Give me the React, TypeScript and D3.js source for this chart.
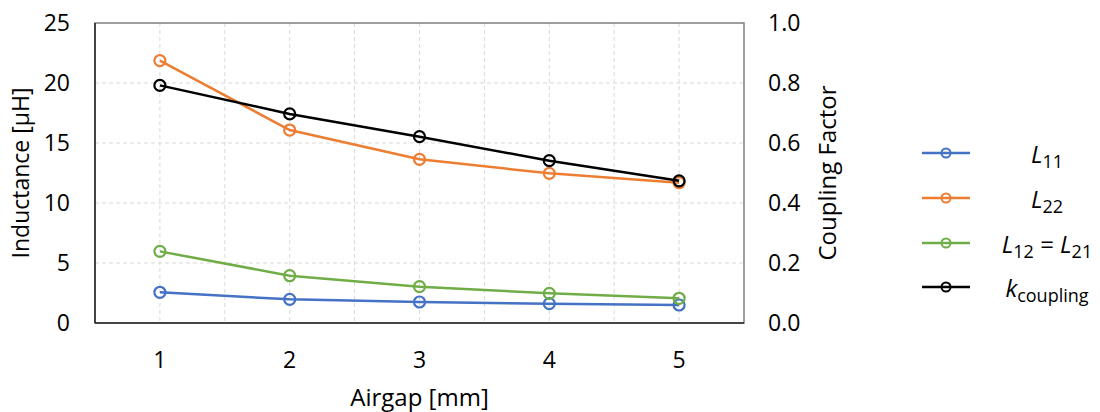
import React from "react";
import * as d3 from "d3";

const airgaps = [1, 2, 3, 4, 5];
const L11 = [2.56, 1.97, 1.75, 1.61, 1.5];
const L22 = [21.86, 16.08, 13.64, 12.47, 11.69];
const L12 = [5.97, 3.94, 3.03, 2.47, 2.06];
const kCoupling = [0.792, 0.697, 0.621, 0.541, 0.474];
const leftTicks = [0, 5, 10, 15, 20, 25];
const rightTicks = [0, 0.2, 0.4, 0.6, 0.8, 1.0];
const xTicks = [1, 2, 3, 4, 5];
const xGrid = [0.5, 1, 1.5, 2, 2.5, 3, 3.5, 4, 4.5, 5, 5.5];

const FONT = "'Open Sans', 'Noto Sans', sans-serif";

export default function App() {
  const left = 95, right = 744, top = 23, bottom = 323;
  const x = d3.scaleLinear().domain([0.5, 5.5]).range([left, right]);
  const yL = d3.scaleLinear().domain([0, 25]).range([bottom, top]);
  const yR = d3.scaleLinear().domain([0, 1]).range([bottom, top]);

  const series = [
    { name: "L11", values: L11, color: "#4472C4", y: yL },
    { name: "L22", values: L22, color: "#ED7D31", y: yL },
    { name: "L12", values: L12, color: "#70AD47", y: yL },
    { name: "k", values: kCoupling, color: "#000000", y: yR },
  ];

  const SUB = 18;
  const legendRows = [
    { color: "#4472C4", y: 153, label: (
      <>
        <tspan fontStyle="italic">L</tspan>
        <tspan fontSize={SUB} dy={5}>11</tspan>
      </>
    ) },
    { color: "#ED7D31", y: 198, label: (
      <>
        <tspan fontStyle="italic">L</tspan>
        <tspan fontSize={SUB} dy={5}>22</tspan>
      </>
    ) },
    { color: "#70AD47", y: 243, label: (
      <>
        <tspan fontStyle="italic">L</tspan>
        <tspan fontSize={SUB} dy={5}>12</tspan>
        <tspan dy={-5}> = </tspan>
        <tspan fontStyle="italic">L</tspan>
        <tspan fontSize={SUB} dy={5}>21</tspan>
      </>
    ) },
    { color: "#000000", y: 287, label: (
      <>
        <tspan fontStyle="italic">k</tspan>
        <tspan fontSize={SUB} dy={5}>coupling</tspan>
      </>
    ) },
  ];

  return (
    <svg width={1100} height={412} style={{ position: "absolute", left: 0, top: 0, background: "#fff" }} fontFamily={FONT}>
      <rect x={0} y={0} width={1100} height={412} fill="#fff" />
      {/* grid */}
      {leftTicks.slice(1, -1).map((t) => (
        <line key={"gy" + t} x1={left} x2={right} y1={yL(t)} y2={yL(t)} stroke="#d9d9d9" strokeWidth={1} strokeDasharray="4,3" />
      ))}
      {xGrid.slice(1, -1).map((t) => (
        <line key={"gx" + t} x1={x(t)} x2={x(t)} y1={top} y2={bottom} stroke="#d9d9d9" strokeWidth={1} strokeDasharray="4,3" />
      ))}
      {/* frame */}
      <rect x={left} y={top} width={right - left} height={bottom - top} fill="none" stroke="#7f7f7f" strokeWidth={1.5} />
      <line x1={left} x2={left} y1={top} y2={bottom} stroke="#262626" strokeWidth={1.5} />
      <line x1={left} x2={right} y1={bottom} y2={bottom} stroke="#262626" strokeWidth={1.5} />

      {/* series */}
      {series.map((s) => {
        const line = d3.line<number>().x((_, i) => x(airgaps[i])).y((v) => s.y(v));
        return (
          <g key={s.name}>
            <path d={line(s.values) || ""} fill="none" stroke={s.color} strokeWidth={2.5} />
            {s.values.map((v, i) => (
              <circle key={i} cx={x(airgaps[i])} cy={s.y(v)} r={5.5} fill="none" stroke={s.color} strokeWidth={2.2} />
            ))}
          </g>
        );
      })}

      {/* ticks */}
      {leftTicks.map((t) => (
        <text key={"l" + t} x={70} y={yL(t)} dy="0.35em" textAnchor="end" fontSize={23} fill="#000">{t}</text>
      ))}
      {rightTicks.map((t) => (
        <text key={"r" + t} x={768} y={yR(t)} dy="0.35em" textAnchor="start" fontSize={23} fill="#000">{t.toFixed(1)}</text>
      ))}
      {xTicks.map((t) => (
        <text key={"x" + t} x={x(t)} y={368} textAnchor="middle" fontSize={23} fill="#000">{t}</text>
      ))}

      {/* axis titles */}
      <text x={x(3)} y={406} textAnchor="middle" fontSize={24} fill="#000">Airgap [mm]</text>
      <text transform={`translate(29,${(top + bottom) / 2}) rotate(-90)`} textAnchor="middle" fontSize={23} fill="#000">Inductance [µH]</text>
      <text transform={`translate(836,${(top + bottom) / 2}) rotate(-90)`} textAnchor="middle" fontSize={24} fill="#000">Coupling Factor</text>

      {/* legend */}
      {legendRows.map((r, i) => (
        <g key={i}>
          <line x1={922} x2={970} y1={r.y} y2={r.y} stroke={r.color} strokeWidth={2.5} />
          <circle cx={946} cy={r.y} r={4.5} fill="none" stroke={r.color} strokeWidth={2} />
          <text x={1047} y={r.y + 10} textAnchor="middle" fontSize={24} fill="#000">{r.label}</text>
        </g>
      ))}
    </svg>
  );
}
